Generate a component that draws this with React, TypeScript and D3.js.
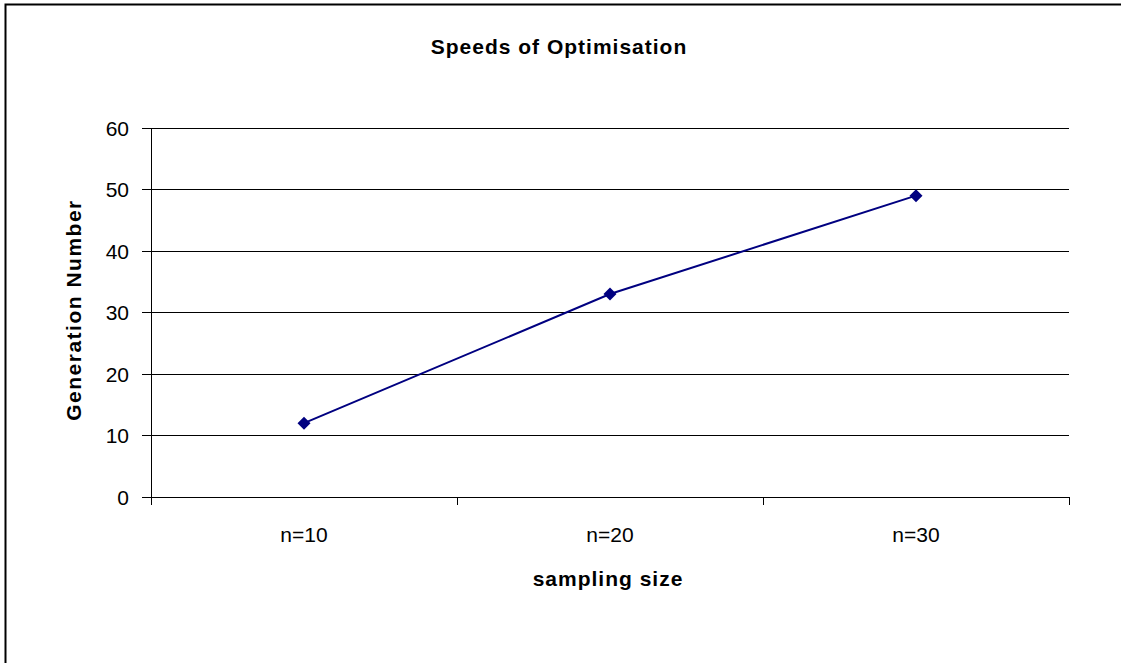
import React from "react";
import * as d3 from "d3";

const categories = ["n=10", "n=20", "n=30"];
const values = [12, 33, 49];
const yTicks = [0, 10, 20, 30, 40, 50, 60];
const title = "Speeds of Optimisation";
const xTitle = "sampling size";
const yTitle = "Generation Number";

export default function App() {
  const W = 1121, H = 663;
  const left = 151, right = 1069, top = 128, bottom = 497;
  const x = d3.scaleBand<string>().domain(categories).range([left, right]);
  const y = d3.scaleLinear().domain([0, 60]).range([bottom, top]);
  const line = d3.line<number>()
    .x((_, i) => (x(categories[i]) as number) + x.bandwidth() / 2)
    .y((d) => y(d));
  const font = "'Liberation Sans', Arial, sans-serif";
  const bounds = [left, ...categories.map((c) => (x(c) as number) + x.bandwidth())];
  return (
    <svg width={W} height={H} style={{ position: "absolute", left: 0, top: 0, background: "#fff" }}>
      <rect x={0} y={0} width={W} height={H} fill="#fff" />
      <rect x={5.5} y={4.5} width={W + 10} height={H + 10} fill="none" stroke="#000" strokeWidth={2} />
      <text x={559} y={53.5} textAnchor="middle" fontFamily={font} fontWeight="bold" fontSize={21} letterSpacing={1}>{title}</text>
      {yTicks.map((t) => (
        <g key={t}>
          <line x1={left} x2={right} y1={y(t)} y2={y(t)} stroke="#000" strokeWidth={1} shapeRendering="crispEdges" />
          <line x1={142} x2={left} y1={y(t)} y2={y(t)} stroke="#000" strokeWidth={1} shapeRendering="crispEdges" />
          <text x={129} y={y(t) + 7.5} textAnchor="end" fontFamily={font} fontSize={21}>{t}</text>
        </g>
      ))}
      <line x1={left} x2={left} y1={top} y2={bottom + 8} stroke="#000" strokeWidth={1} shapeRendering="crispEdges" />
      {bounds.map((b, i) => (
        <line key={i} x1={b} x2={b} y1={bottom} y2={bottom + 8} stroke="#000" strokeWidth={1} shapeRendering="crispEdges" />
      ))}
      {categories.map((c) => (
        <text key={c} x={(x(c) as number) + x.bandwidth() / 2} y={542} textAnchor="middle" fontFamily={font} fontSize={21}>{c}</text>
      ))}
      <text x={608} y={586} textAnchor="middle" fontFamily={font} fontWeight="bold" fontSize={21} letterSpacing={1}>{xTitle}</text>
      <text transform={`translate(81,310) rotate(-90)`} textAnchor="middle" fontFamily={font} fontWeight="bold" fontSize={21} letterSpacing={1.5}>{yTitle}</text>
      <path d={line(values) || ""} fill="none" stroke="#000080" strokeWidth={2} />
      {values.map((v, i) => {
        const cx = (x(categories[i]) as number) + x.bandwidth() / 2;
        const cy = y(v);
        const s = 6.5;
        return <path key={i} d={`M${cx},${cy - s}L${cx + s},${cy}L${cx},${cy + s}L${cx - s},${cy}Z`} fill="#000080" />;
      })}
    </svg>
  );
}
